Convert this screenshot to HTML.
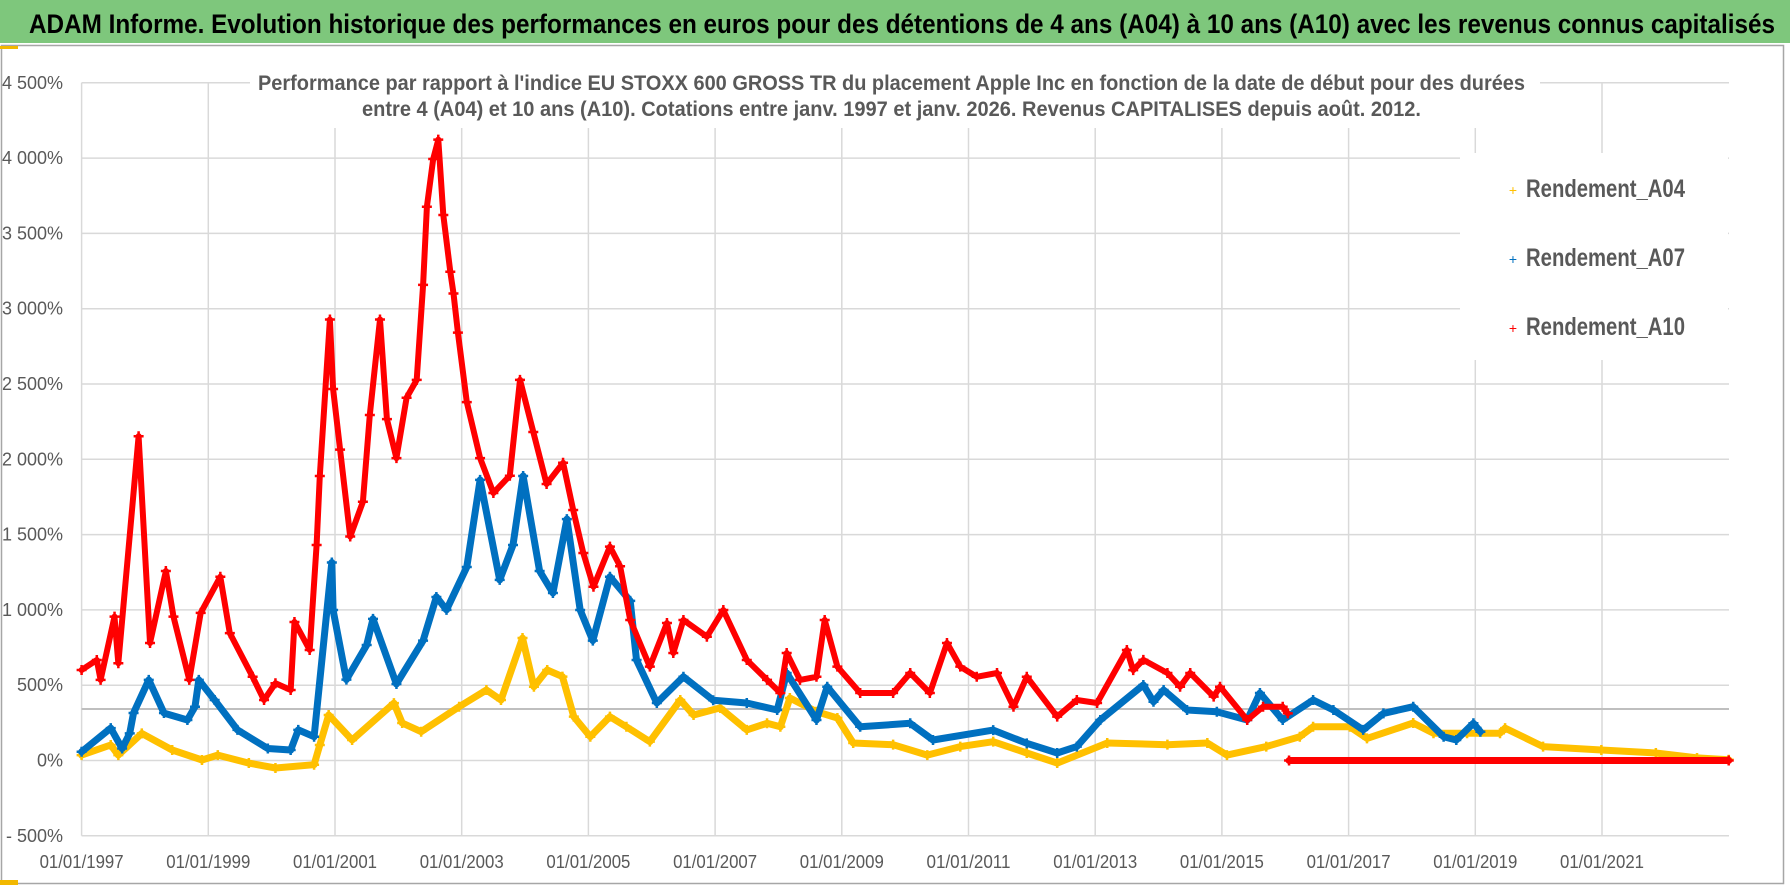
<!DOCTYPE html>
<html><head><meta charset="utf-8"><title>ADAM Informe</title>
<style>
html,body{margin:0;padding:0;background:#fff;}
svg{display:block;}
text{font-family:"Liberation Sans Narrow","Liberation Sans",sans-serif;}
.b{font-weight:bold;}
</style></head>
<body>
<svg id="chart" width="1790" height="886" viewBox="0 0 1790 886" xmlns="http://www.w3.org/2000/svg">
  <rect x="0" y="0" width="1790" height="886" fill="#ffffff"/>
  <rect x="0" y="0" width="1790" height="43" fill="#7ec77c"/>
  <text class="b" x="29" y="33" font-size="27" fill="#000" textLength="1746" lengthAdjust="spacingAndGlyphs">ADAM Informe. Evolution historique des performances en euros pour des détentions de 4 ans (A04) à 10 ans (A10) avec les revenus connus capitalisés</text>
  <rect x="1.5" y="45.5" width="1782" height="838" fill="none" stroke="#a6a6a6" stroke-width="1.5"/>
  <rect x="0" y="46" width="18" height="3" fill="#f2b800"/>
  <rect x="0" y="880" width="18" height="5" fill="#f2b800"/>
  <g id="grid"></g>
  <rect x="250" y="60" width="1290" height="68" fill="#fff"/>
  <text class="b" x="258" y="90" font-size="21" fill="#595959" textLength="1267" lengthAdjust="spacingAndGlyphs">Performance par rapport à l'indice EU STOXX 600 GROSS TR  du placement Apple Inc en fonction de la date de début pour des durées</text>
  <text class="b" x="362" y="116" font-size="21" fill="#595959" textLength="1059" lengthAdjust="spacingAndGlyphs">entre 4 (A04) et 10 ans (A10).  Cotations entre janv. 1997 et janv. 2026. Revenus CAPITALISES depuis août. 2012.</text>
  <g id="axes"></g>
  <g id="series"></g>
  <g id="legend">
    <rect x="1460" y="153" width="268" height="207" fill="#fff"/>
    <g>
      <text x="1513" y="195" font-size="14" fill="#ffc000" text-anchor="middle">+</text>
      <text class="b" x="1526" y="197" font-size="25" fill="#595959" textLength="159" lengthAdjust="spacingAndGlyphs">Rendement_A04</text>
    </g>
    <g>
      <text x="1513" y="264" font-size="14" fill="#0070c0" text-anchor="middle">+</text>
      <text class="b" x="1526" y="266" font-size="25" fill="#595959" textLength="159" lengthAdjust="spacingAndGlyphs">Rendement_A07</text>
    </g>
    <g>
      <text x="1513" y="333" font-size="14" fill="#ff0000" text-anchor="middle">+</text>
      <text class="b" x="1526" y="335" font-size="25" fill="#595959" textLength="159" lengthAdjust="spacingAndGlyphs">Rendement_A10</text>
    </g>
  </g>
</svg>
<script>
const yTicks = [-500,0,500,1000,1500,2000,2500,3000,3500,4000,4500];
const yTickLabels = ["- 500%","0%","500%","1 000%","1 500%","2 000%","2 500%","3 000%","3 500%","4 000%","4 500%"];
const xTicks = [1997,1999,2001,2003,2005,2007,2009,2011,2013,2015,2017,2019,2021];
const xTickLabels = ["01/01/1997","01/01/1999","01/01/2001","01/01/2003","01/01/2005","01/01/2007","01/01/2009","01/01/2011","01/01/2013","01/01/2015","01/01/2017","01/01/2019","01/01/2021"];
const refLineValue = 342;

const a04Dates = [1997.0,1997.46,1997.58,1997.95,1998.43,1998.9,1999.15,1999.64,2000.06,2000.67,2000.76,2000.9,2001.27,2001.93,2002.06,2002.36,2002.96,2003.39,2003.62,2003.96,2004.14,2004.35,2004.59,2004.77,2005.03,2005.34,2005.6,2005.97,2006.45,2006.66,2007.08,2007.5,2007.82,2008.03,2008.18,2008.6,2008.93,2009.18,2009.81,2010.35,2010.87,2011.39,2011.92,2012.4,2013.19,2014.14,2014.77,2015.08,2015.7,2016.23,2016.44,2017.02,2017.29,2018.02,2018.34,2018.87,2019.39,2019.47,2020.07,2020.99,2021.85,2022.5,2023.0];
const a04Values = [36,103,36,180,70,3,36,-17,-50,-28,103,302,136,381,249,191,357,468,402,813,490,601,557,291,158,291,224,125,402,302,349,203,247,224,415,324,282,116,105,36,92,125,50,-17,116,105,116,36,92,158,224,224,147,249,181,181,181,215,92,70,50,17,5];

const a07Dates = [1997.0,1997.46,1997.64,1997.76,1997.82,1998.06,1998.3,1998.67,1998.79,1998.85,1999.1,1999.46,1999.94,2000.3,2000.42,2000.67,2000.95,2000.97,2001.18,2001.5,2001.6,2001.97,2002.39,2002.6,2002.76,2003.08,2003.29,2003.6,2003.81,2003.97,2004.23,2004.44,2004.66,2004.87,2005.07,2005.34,2005.66,2005.76,2006.08,2006.5,2006.97,2007.5,2007.98,2008.13,2008.6,2008.77,2009.29,2010.08,2010.44,2011.39,2011.92,2012.4,2012.71,2013.08,2013.76,2013.92,2014.08,2014.45,2014.92,2015.4,2015.6,2015.96,2016.44,2016.76,2017.23,2017.55,2018.02,2018.5,2018.7,2018.97,2019.08];
const a07Values = [58,215,80,180,315,535,315,269,357,535,402,203,80,70,203,158,1315,999,537,767,940,508,796,1086,1000,1285,1863,1199,1431,1889,1258,1112,1603,999,796,1220,1060,667,382,556,400,382,335,581,269,490,224,247,136,202,114,50,92,269,501,390,468,335,324,269,448,269,402,335,203,313,357,158,136,247,191];

const a10Dates = [1997.0,1997.24,1997.3,1997.52,1997.58,1997.9,1998.08,1998.33,1998.45,1998.7,1998.88,1999.19,1999.34,1999.7,1999.88,2000.06,2000.3,2000.36,2000.6,2000.71,2000.76,2000.92,2000.97,2001.08,2001.24,2001.44,2001.55,2001.71,2001.82,2001.97,2002.13,2002.29,2002.39,2002.45,2002.55,2002.63,2002.71,2002.82,2002.87,2002.94,2003.08,2003.29,2003.5,2003.76,2003.92,2004.13,2004.34,2004.6,2004.76,2004.92,2005.08,2005.34,2005.5,2005.66,2005.97,2006.24,2006.34,2006.5,2006.87,2007.13,2007.5,2007.82,2008.03,2008.13,2008.34,2008.6,2008.73,2008.93,2009.29,2009.81,2010.08,2010.39,2010.66,2010.87,2011.13,2011.45,2011.71,2011.92,2012.4,2012.71,2013.03,2013.5,2013.6,2013.76,2014.14,2014.34,2014.5,2014.87,2014.97,2015.4,2015.65,2015.96,2016.04];
const a10Values = [601,667,535,955,646,2153,780,1258,955,535,980,1220,846,556,402,513,468,920,734,1431,1889,2928,2467,2064,1487,1718,2294,2928,2267,2008,2409,2527,3158,3677,3994,4123,3622,3245,3101,2841,2380,2008,1776,1891,2527,2181,1836,1977,1663,1378,1154,1420,1290,933,623,913,714,933,822,999,667,535,448,714,535,556,933,623,448,448,581,448,780,623,556,581,357,556,291,402,382,734,600,668,581,490,581,424,490,269,357,357,313];
const a10ZeroDates = [2016.06,2023.0];
const a10ZeroValues = [0,0];

const NS = "http://www.w3.org/2000/svg";
const X0 = 81.6, XPY = 63.35, Y0 = 760.5, YP = 0.1506, XR = 1729;
function xs(t){ return X0 + (t - 1997) * XPY; }
function ys(v){ return Y0 - v * YP; }
function mk(tag, attrs, parent){ const e = document.createElementNS(NS, tag); for (const k in attrs) e.setAttribute(k, attrs[k]); parent.appendChild(e); return e; }

const grid = document.getElementById('grid');
const axes = document.getElementById('axes');
yTicks.forEach((v, i) => {
  const l = mk('line', {x1: X0, x2: XR, y1: ys(v), y2: ys(v), stroke: '#d9d9d9', 'stroke-width': 1.5}, grid);
  
  
  const t = mk('text', {x: 63, y: ys(v) + 6, 'text-anchor': 'end', 'font-size': 18, fill: '#595959'}, axes);
  t.textContent = yTickLabels[i];
  
  
});
xTicks.forEach((yr, i) => {
  const l = mk('line', {x1: xs(yr), x2: xs(yr), y1: ys(4500), y2: ys(-500), stroke: '#d9d9d9', 'stroke-width': 1.5}, grid);
  
  
  const t = mk('text', {x: xs(yr), y: 868, 'text-anchor': 'middle', 'font-size': 18, fill: '#595959', textLength: 84, lengthAdjust: 'spacingAndGlyphs'}, axes);
  t.textContent = xTickLabels[i];
  
  
});
const ref = mk('line', {x1: X0, x2: XR, y1: ys(refLineValue), y2: ys(refLineValue), stroke: '#bfbfbf', 'stroke-width': 2}, grid);



const series = document.getElementById('series');
function drawSeries(dates, values, color, name, w){
  const g = mk('g', {}, series);
  
  
  const pts = dates.map((d, i) => xs(d).toFixed(1) + ',' + ys(values[i]).toFixed(1)).join(' ');
  const pl = mk('polyline', {points: pts, fill: 'none', stroke: color, 'stroke-width': w, 'stroke-linejoin': 'round', 'stroke-linecap': 'round'}, g);
  
  
  dates.forEach((d, i) => {
    const x = xs(d), y = ys(values[i]);
    const p = mk('path', {d: `M${x-5},${y}H${x+5}M${x},${y-5}V${y+5}`, stroke: color, 'stroke-width': 2.5}, g);
    
    
  });
}
drawSeries(a04Dates, a04Values, '#ffc000', 'series-a04', 7);
drawSeries(a07Dates, a07Values, '#0070c0', 'series-a07', 7);
drawSeries(a10Dates, a10Values, '#ff0000', 'series-a10', 6);
drawSeries(a10ZeroDates, a10ZeroValues, '#ff0000', 'series-a10-zero', 7);
</script>
</body></html>
